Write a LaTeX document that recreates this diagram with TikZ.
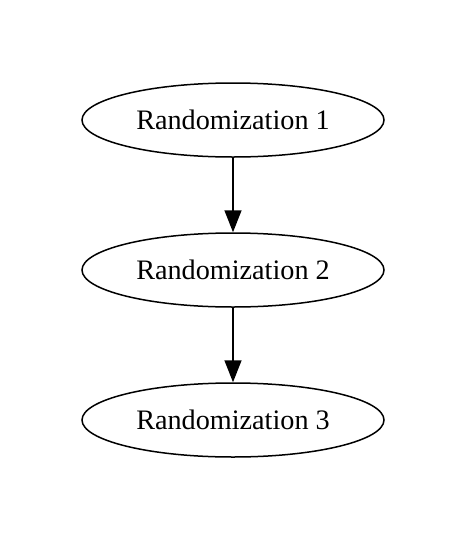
\documentclass[tikz,border=0pt]{standalone}
\usepackage{fontspec}
\setmainfont{Liberation Serif}
\usetikzlibrary{shapes.geometric,arrows.meta,positioning}
\tikzset{
  randnode/.style={draw,ellipse,line width=0.75pt,minimum width=151pt,
    minimum height=37pt,inner sep=0pt,font=\fontsize{14.1}{16}\selectfont},
  randedge/.style={line width=0.75pt,-{Triangle[length=11pt,width=8.5pt]}}
}
\begin{document}
\begin{tikzpicture}[x=0.5pt,y=-0.5pt]
  \useasboundingbox (0,0) rectangle (467,542);
  % Three randomization steps, one under the other.
  \node[randnode] (r1) at (233,120) {Randomization 1};
  \node[randnode] (r2) at (233,270) {Randomization 2};
  \node[randnode] (r3) at (233,420) {Randomization 3};

  \draw[randedge] (r1) -- (r2);
  \draw[randedge] (r2) -- (r3);
\end{tikzpicture}
\end{document}
